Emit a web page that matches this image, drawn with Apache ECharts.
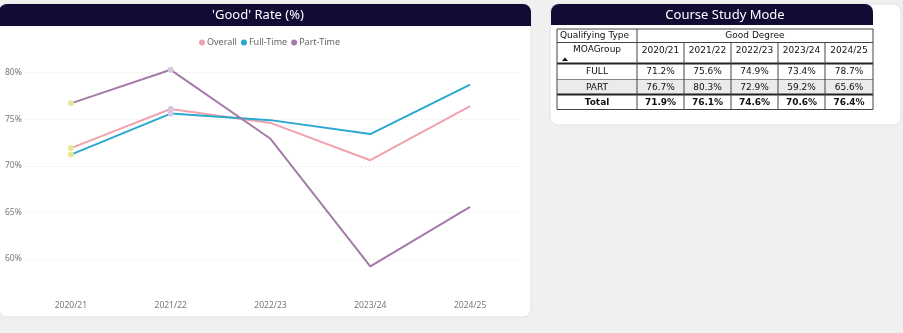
<!DOCTYPE html>
<html>
<head>
<meta charset="utf-8">
<script src="https://cdn.jsdelivr.net/npm/echarts@6/dist/echarts.min.js"></script>
<style>
  html, body { margin: 0; padding: 0; background: #f0f0f0; }
  #main { width: 903px; height: 333px; }
</style>
</head>
<body>
<div id="main"></div>
<script>
// chart data
var categories = ['2020/21', '2021/22', '2022/23', '2023/24', '2024/25'];
var overall = [71.9, 76.1, 74.6, 70.6, 76.4];
var fullTime = [71.2, 75.6, 74.9, 73.4, 78.7];
var partTime = [76.7, 80.3, 72.9, 59.2, 65.6];
var seriesNames = ['Overall', 'Full-Time', 'Part-Time'];

// table data
var tableTitle = 'Course Study Mode';
var rowHeader = 'Qualifying Type';
var colGroup = 'Good Degree';
var rowField = 'MOAGroup';
var rowLabels = ['FULL', 'PART', 'Total'];
var rowValues = [fullTime, partTime, overall];

var colors = ['#f0a3ae', '#2ba8cf', '#a47ba8'];
var markColors = ['#e4e89c', '#d6c6de'];

// only the first two points carry a marker in the original
function withMarkers(arr) {
  return arr.map(function (v, i) {
    if (i < markColors.length) {
      return { value: v, symbol: 'circle', symbolSize: 6, itemStyle: { color: markColors[i] } };
    }
    return v;
  });
}

// table layout
var colX = [557, 637, 684, 731, 778, 825, 873];
var rowY = [29, 42.5, 63.5, 79.5, 94.5, 109.5];
var tFont = 'DejaVu Sans';
var els = [];

function line(x1, y1, x2, y2, w, c) {
  els.push({ type: 'line', z: 100, shape: { x1: x1, y1: y1, x2: x2, y2: y2 },
    style: { stroke: c || '#444', lineWidth: w || 1 } });
}
function text(t, x, y, align, bold) {
  els.push({ type: 'text', z: 101, x: x, y: y,
    style: { text: t, fill: '#111', font: (bold ? 'bold ' : '') + '9px ' + tFont,
      align: align || 'center', verticalAlign: 'middle' } });
}

// cards
els.push({ type: 'rect', z: -2, shape: { x: -1, y: 4, width: 532, height: 313, r: 8 },
  style: { fill: '#fff', stroke: '#e2e2e2', lineWidth: 1 } });
els.push({ type: 'rect', z: -1, shape: { x: -1, y: 4, width: 532, height: 22, r: [8, 8, 0, 0] },
  style: { fill: '#140b35' } });
els.push({ type: 'text', z: 5, x: 258, y: 15.5,
  style: { text: "'Good' Rate (%)", fill: '#fff', font: '13px Noto Sans', align: 'center', verticalAlign: 'middle' } });

els.push({ type: 'rect', z: -2, shape: { x: 550, y: 4, width: 351, height: 121, r: 8 },
  style: { fill: '#fff', stroke: '#e2e2e2', lineWidth: 1 } });
els.push({ type: 'rect', z: -1, shape: { x: 551, y: 4, width: 322, height: 21, r: [8, 8, 0, 0] },
  style: { fill: '#140b35' } });
els.push({ type: 'text', z: 5, x: 725, y: 15,
  style: { text: tableTitle, fill: '#fff', font: '13px Noto Sans', align: 'center', verticalAlign: 'middle' } });

// PART row shading
els.push({ type: 'rect', z: 99, shape: { x: colX[0], y: rowY[3], width: colX[6] - colX[0], height: rowY[4] - rowY[3] },
  style: { fill: '#ebebeb' } });

// grid lines
line(colX[0], rowY[0], colX[6], rowY[0]);
line(colX[0], rowY[1], colX[1], rowY[1]);
line(colX[1], rowY[1], colX[6], rowY[1]);
line(colX[0], rowY[2], colX[6], rowY[2], 2, '#222');
line(colX[0], rowY[3], colX[6], rowY[3], 1, '#888');
line(colX[0], rowY[4], colX[6], rowY[4], 2, '#222');
line(colX[0], rowY[5], colX[6], rowY[5]);
line(colX[0], rowY[0], colX[0], rowY[5]);
line(colX[1], rowY[0], colX[1], rowY[5]);
line(colX[6], rowY[0], colX[6], rowY[5]);
for (var c = 2; c < colX.length - 1; c++) {
  line(colX[c], rowY[1], colX[c], rowY[5]);
}

// header texts
text(rowHeader, colX[0] + 3, (rowY[0] + rowY[1]) / 2, 'left');
text(colGroup, (colX[1] + colX[6]) / 2, (rowY[0] + rowY[1]) / 2);
text(rowField, (colX[0] + colX[1]) / 2, rowY[1] + 7);
els.push({ type: 'polygon', z: 101, shape: { points: [[562, 61], [568, 61], [565, 57.5]] }, style: { fill: '#111' } });
categories.forEach(function (cat, i) {
  text(cat, (colX[i + 1] + colX[i + 2]) / 2, rowY[1] + 8.5);
});

// body rows
rowLabels.forEach(function (lab, r) {
  var cy = (rowY[r + 2] + rowY[r + 3]) / 2 + 0.5;
  var bold = r === rowLabels.length - 1;
  text(lab, (colX[0] + colX[1]) / 2, cy, 'center', bold);
  rowValues[r].forEach(function (v, i) {
    text(v.toFixed(1) + '%', (colX[i + 1] + colX[i + 2]) / 2, cy, 'center', bold);
  });
});

var chart = echarts.init(document.getElementById('main'));
chart.setOption({
  animation: false,
  backgroundColor: '#f0f0f0',
  color: colors,
  textStyle: { fontFamily: 'Noto Sans' },
  graphic: { elements: els },
  legend: {
    left: 194,
    top: 33,
    itemWidth: 6,
    itemHeight: 6,
    itemGap: 4,
    icon: 'circle',
    textStyle: { color: '#666', fontSize: 9, fontFamily: 'Noto Sans', padding: [0, 0, 0, -3] },
    data: seriesNames
  },
  grid: { left: 21, right: 383, top: 26, bottom: 27.4 },
  xAxis: {
    type: 'category',
    data: categories,
    boundaryGap: true,
    offset: -6,
    axisLine: { show: false },
    axisTick: { show: false },
    axisLabel: { color: '#777', fontSize: 8.5, margin: 1 }
  },
  yAxis: {
    type: 'value',
    min: 55,
    max: 85,
    interval: 5,
    axisLine: { show: false },
    axisTick: { show: false },
    axisLabel: {
      formatter: '{value}%', color: '#777', fontSize: 8.5,
      align: 'left', margin: 16, showMinLabel: false, showMaxLabel: false
    },
    splitLine: {
      showMinLine: false, showMaxLine: false,
      lineStyle: { color: '#dcdcdc', type: [1, 3], width: 1 }
    }
  },
  series: [
    { name: seriesNames[0], type: 'line', symbol: 'none', lineStyle: { width: 2 }, data: withMarkers(overall) },
    { name: seriesNames[1], type: 'line', symbol: 'none', lineStyle: { width: 2 }, data: withMarkers(fullTime) },
    { name: seriesNames[2], type: 'line', symbol: 'none', lineStyle: { width: 2 }, data: withMarkers(partTime) }
  ]
});
</script>
</body>
</html>
